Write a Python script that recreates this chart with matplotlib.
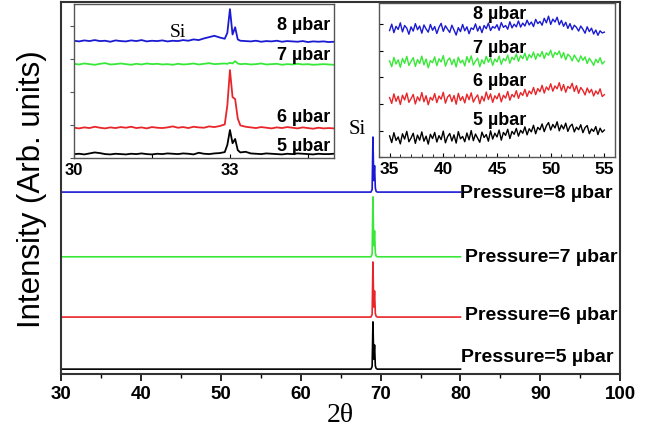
import numpy as np
import matplotlib
matplotlib.use("Agg")
import matplotlib.pyplot as plt
from matplotlib.ticker import MultipleLocator, NullLocator

plt.rcParams['font.family'] = ['Liberation Sans', 'DejaVu Sans']

# colours of the four pressures
colors = {'5': 'black', '6': '#e8262a', '7': '#38e838', '8': '#1a1ad2'}

# ---- main pattern: 2theta 30-80, single Si peak near 69.1
x_main = [30.0, 68.8, 68.95, 69.05, 69.15, 69.25, 69.35, 69.45, 69.6, 80.0]
main_8 = [48.9, 48.9, 49.6, 63.7, 52.0, 56.0, 50.0, 49.1, 48.9, 48.9]
main_7 = [31.5, 31.5, 32.2, 47.6, 34.5, 38.5, 32.5, 31.7, 31.5, 31.5]
main_6 = [15.3, 15.3, 16.0, 30.1, 18.0, 22.3, 16.3, 15.5, 15.3, 15.3]
main_5 = [1.3, 1.3, 2.0, 14.0, 4.0, 7.8, 2.2, 1.5, 1.3, 1.3]

# ---- inset 1: 30-35 deg, Si peak at 33
x_in1 = ([30.0, 30.1, 30.2, 30.3, 30.4, 30.5, 30.6, 30.7, 30.8, 30.9,
          31.0, 31.1, 31.2, 31.3, 31.4, 31.5, 31.6, 31.7, 31.8, 31.9,
          32.0, 32.1, 32.2, 32.3, 32.4, 32.5, 32.6, 32.7, 32.8, 32.9,
          32.95, 33.0, 33.05, 33.1, 33.15, 33.2,
          33.3, 33.4, 33.5, 33.6, 33.7, 33.8, 33.9, 34.0, 34.1, 34.2,
          34.3, 34.4, 34.5, 34.6, 34.7, 34.8, 34.9, 35.0])
in1_5 = [0.12, 0.13, 0.11, 0.14, 0.17, 0.15, 0.12, 0.11, 0.13, 0.12,
         0.11, 0.13, 0.12, 0.14, 0.12, 0.11, 0.13, 0.12, 0.14, 0.13,
         0.12, 0.14, 0.13, 0.11, 0.16, 0.13, 0.12, 0.14, 0.15, 0.18,
         0.40, 0.85, 0.45, 0.58, 0.24, 0.17,
         0.19, 0.14, 0.13, 0.12, 0.14, 0.13, 0.12, 0.11, 0.13, 0.12,
         0.14, 0.13, 0.12, 0.11, 0.13, 0.12, 0.12, 0.13]
in1_6 = [0.92, 0.90, 0.93, 0.91, 0.95, 0.92, 0.90, 0.93, 0.91, 0.94,
         0.92, 0.95, 0.91, 0.93, 0.90, 0.94, 0.92, 0.91, 0.93, 0.96,
         0.92, 0.94, 0.91, 0.95, 0.93, 0.92, 0.96, 0.94, 0.97, 1.02,
         1.60, 2.67, 1.85, 1.79, 1.20, 0.99,
         0.95, 0.93, 0.91, 0.94, 0.92, 0.90, 0.93, 0.91, 0.94, 0.92,
         0.90, 0.93, 0.91, 0.89, 0.92, 0.90, 0.91, 0.90]
in1_7 = [2.86, 2.84, 2.87, 2.85, 2.83, 2.86, 2.88, 2.84, 2.85, 2.87,
         2.85, 2.83, 2.86, 2.84, 2.87, 2.85, 2.86, 2.84, 2.85, 2.83,
         2.86, 2.84, 2.85, 2.87, 2.84, 2.86, 2.88, 2.85, 2.86, 2.87,
         2.86, 2.89, 2.87, 2.94, 2.87, 2.85,
         2.86, 2.84, 2.85, 2.87, 2.84, 2.85, 2.86, 2.83, 2.85, 2.84,
         2.86, 2.84, 2.85, 2.83, 2.84, 2.85, 2.84, 2.83]
in1_8 = [3.56, 3.54, 3.57, 3.55, 3.58, 3.55, 3.56, 3.53, 3.57, 3.55,
         3.54, 3.57, 3.55, 3.58, 3.54, 3.56, 3.55, 3.57, 3.54, 3.56,
         3.55, 3.58, 3.56, 3.60, 3.58, 3.63, 3.67, 3.71, 3.66, 3.62,
         3.80, 4.52, 3.75, 3.97, 3.60, 3.56,
         3.55, 3.54, 3.56, 3.53, 3.55, 3.54, 3.56, 3.53, 3.55, 3.54,
         3.53, 3.55, 3.52, 3.54, 3.53, 3.54, 3.52, 3.53]

# ---- inset 2: 35-55 deg, amorphous region, 0.2 deg steps
x_in2 = np.round(np.arange(35.0, 55.01, 0.2), 1)
in2_5 = [0.80, 0.55, 0.92, 0.63, 0.76, 0.50, 0.88, 0.68, 0.97, 0.58,
         0.72, 0.90, 0.52, 0.83, 0.64, 0.95, 0.60, 0.79, 0.49, 0.86,
         0.70, 0.93, 0.57, 0.81, 0.66, 0.98, 0.54, 0.77, 0.89, 0.61,
         0.84, 0.53, 0.96, 0.69, 0.78, 0.58, 0.91, 0.65, 1.00, 0.62,
         0.87, 0.71, 0.56, 0.94, 0.74, 0.85, 0.60, 0.99, 0.68, 0.90,
         0.76, 1.02, 0.64, 0.93, 0.82, 1.05, 0.70, 0.97, 0.86, 1.08,
         0.79, 1.01, 0.90, 1.14, 0.84, 1.07, 0.95, 1.20, 0.88, 1.12,
         1.03, 1.25, 0.96, 1.18, 1.30, 1.02, 1.23, 1.10, 1.33, 0.99,
         1.21, 1.06, 1.28, 0.97, 1.16, 1.24, 0.95, 1.13, 1.03, 1.22,
         0.92, 1.11, 1.19, 0.88, 1.06, 0.97, 1.15, 0.85, 1.09, 0.94,
         1.02]
in2_6 = [2.24, 2.02, 2.38, 2.10, 2.29, 1.98, 2.33, 2.15, 2.41, 2.06,
         2.20, 2.36, 2.00, 2.27, 2.12, 2.43, 2.08, 2.31, 1.97, 2.25,
         2.14, 2.39, 2.05, 2.30, 2.18, 2.44, 2.03, 2.26, 2.35, 2.09,
         2.32, 1.99, 2.40, 2.13, 2.28, 2.04, 2.37, 2.16, 2.42, 2.07,
         2.23, 2.34, 2.01, 2.29, 2.11, 2.45, 2.17, 2.38, 2.06, 2.31,
         2.19, 2.40, 2.08, 2.33, 2.22, 2.47, 2.14, 2.36, 2.26, 2.50,
         2.21, 2.43, 2.32, 2.55, 2.28, 2.49, 2.38, 2.62, 2.35, 2.58,
         2.46, 2.70, 2.41, 2.64, 2.52, 2.76, 2.48, 2.68, 2.57, 2.80,
         2.50, 2.73, 2.44, 2.66, 2.58, 2.78, 2.47, 2.69, 2.40, 2.62,
         2.51, 2.34, 2.60, 2.42, 2.55, 2.30, 2.49, 2.37, 2.57, 2.28,
         2.35]
in2_7 = [3.62, 3.40, 3.75, 3.50, 3.66, 3.38, 3.71, 3.53, 3.79, 3.45,
         3.60, 3.74, 3.41, 3.67, 3.52, 3.80, 3.47, 3.69, 3.36, 3.63,
         3.55, 3.77, 3.44, 3.70, 3.58, 3.82, 3.42, 3.64, 3.73, 3.48,
         3.68, 3.39, 3.76, 3.54, 3.65, 3.43, 3.78, 3.56, 3.81, 3.46,
         3.61, 3.72, 3.40, 3.66, 3.51, 3.79, 3.57, 3.74, 3.45, 3.69,
         3.58, 3.80, 3.49, 3.71, 3.62, 3.84, 3.53, 3.76, 3.66, 3.88,
         3.60, 3.82, 3.70, 3.91, 3.64, 3.86, 3.74, 3.95, 3.68, 3.89,
         3.78, 3.97, 3.71, 3.92, 3.83, 4.02, 3.75, 3.94, 3.85, 3.99,
         3.73, 3.93, 3.66, 3.87, 3.79, 3.62, 3.84, 3.70, 3.58, 3.81,
         3.64, 3.77, 3.52, 3.72, 3.60, 3.45, 3.68, 3.55, 3.74, 3.50,
         3.59]
in2_8 = [4.76, 5.00, 4.68, 4.92, 4.80, 5.05, 4.71, 4.95, 4.85, 4.62,
         4.90, 4.74, 5.02, 4.79, 4.93, 4.66, 4.97, 4.82, 4.70, 4.99,
         4.77, 4.91, 4.65, 4.88, 5.03, 4.73, 4.94, 4.81, 4.69, 4.96,
         4.78, 4.59, 4.87, 4.72, 4.99, 4.75, 4.90, 4.64, 4.86, 4.80,
         5.01, 4.74, 4.92, 4.68, 4.95, 4.83, 5.04, 4.76, 4.91, 4.85,
         4.98, 4.77, 5.06, 4.88, 4.95, 4.81, 5.09, 4.86, 5.00, 4.90,
         5.12, 4.89, 5.04, 4.93, 5.15, 4.97, 5.08, 4.91, 5.18, 5.02,
         5.10, 4.96, 5.22, 5.05, 5.30, 4.99, 5.19, 5.08, 5.26, 4.98,
         5.14, 4.92, 5.07, 4.84, 5.02, 4.79, 4.96, 4.88, 4.74, 4.93,
         4.81, 4.66, 4.90, 4.72, 4.85, 4.63, 4.78, 4.58, 4.75, 4.67,
         4.70]

pressures = ['8', '7', '6', '5']

fig = plt.figure(figsize=(6.6, 4.31), dpi=100)

# main axes
ax = fig.add_axes([0.092, 0.130, 0.848, 0.863])
for p, y in zip(pressures, [main_8, main_7, main_6, main_5]):
    ax.plot(x_main, y, color=colors[p], lw=1.2)
ax.set_xlim(30, 100)
ax.set_ylim(0, 100)
ax.xaxis.set_major_locator(MultipleLocator(10))
ax.xaxis.set_minor_locator(MultipleLocator(5))
ax.yaxis.set_major_locator(NullLocator())
ax.tick_params(axis='x', which='major', direction='out', length=5, width=1.2,
               labelsize=13.5, pad=3)
ax.tick_params(axis='x', which='minor', direction='out', length=3, width=1.0)
for lab in ax.get_xticklabels():
    lab.set_fontweight('bold')
for s in ax.spines.values():
    s.set_color('#333333')
    s.set_linewidth(1.5)
ax.set_xlabel('2θ', family='Liberation Serif', fontsize=20, labelpad=0)
ax.set_ylabel('Intensity (Arb. units)', fontsize=22.5, labelpad=10)

label_pos = {'8': (79.9, 48.9), '7': (80.6, 31.7), '6': (80.6, 15.9), '5': (80.1, 4.8)}
for p in pressures:
    ax.text(label_pos[p][0], label_pos[p][1], f'Pressure={p} µbar', fontsize=14,
            fontweight='bold', ha='left', va='center')
ax.text(67.1, 65.9, 'Si', family='Liberation Serif', fontsize=15, ha='center', va='center')

# inset 1
ax1 = fig.add_axes([0.112, 0.631, 0.394, 0.357])
for p, y in zip(pressures, [in1_8, in1_7, in1_6, in1_5]):
    ax1.plot(x_in1, y, color=colors[p], lw=1.3)
ax1.set_xlim(30, 35)
ax1.set_ylim(0, 4.67)
ax1.xaxis.set_major_locator(MultipleLocator(3))
ax1.xaxis.set_minor_locator(MultipleLocator(1.5))
ax1.yaxis.set_major_locator(MultipleLocator(1))
ax1.set_yticklabels([])
ax1.tick_params(axis='y', direction='out', length=3, width=0.8, colors='#555555')
ax1.tick_params(axis='x', which='both', direction='in', length=3, width=0.8,
                labelsize=12, pad=3)
for lab in ax1.get_xticklabels():
    lab.set_fontweight('bold')
for s in ax1.spines.values():
    s.set_color('#555555')
    s.set_linewidth(1.0)
in1_lab_y = {'8': 4.06, '7': 3.15, '6': 1.27, '5': 0.39}
for p in pressures:
    ax1.text(34.92, in1_lab_y[p], f'{p} µbar', fontsize=13, fontweight='bold',
             ha='right', va='center')
ax1.text(32.0, 3.85, 'Si', family='Liberation Serif', fontsize=14, ha='center', va='center')

# inset 2
ax2 = fig.add_axes([0.574, 0.633, 0.358, 0.358])
for p, y in zip(pressures, [in2_8, in2_7, in2_6, in2_5]):
    ax2.plot(x_in2, y, color=colors[p], lw=1.0)
ax2.set_xlim(34, 56)
ax2.set_ylim(0, 5.8)
ax2.xaxis.set_major_locator(MultipleLocator(5))
ax2.xaxis.set_minor_locator(MultipleLocator(1))
ax2.yaxis.set_major_locator(MultipleLocator(1))
ax2.set_yticklabels([])
ax2.tick_params(axis='y', direction='in', length=3, width=0.8)
ax2.tick_params(axis='x', which='major', direction='in', length=3, width=0.8,
                labelsize=12.5, pad=3)
ax2.tick_params(axis='x', which='minor', direction='in', length=2, width=0.6)
for lab in ax2.get_xticklabels():
    lab.set_fontweight('bold')
for s in ax2.spines.values():
    s.set_color('#555555')
    s.set_linewidth(1.0)
in2_lab_y = {'8': 5.40, '7': 4.11, '6': 2.87, '5': 1.43}
for p in pressures:
    ax2.text(45.2, in2_lab_y[p], f'{p} µbar', fontsize=13, fontweight='bold',
             ha='center', va='center')

fig.savefig('out.png', dpi=100)
